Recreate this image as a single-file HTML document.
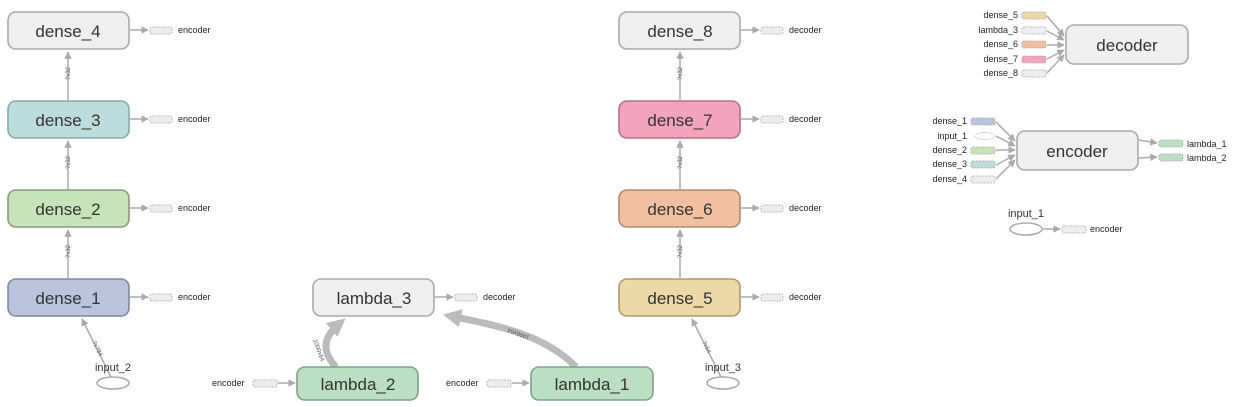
<!DOCTYPE html>
<html><head><meta charset="utf-8"><style>
html,body{margin:0;padding:0;background:#fff;}
svg{display:block;font-family:"Liberation Sans",Arial,sans-serif;}
.n{stroke-width:1.6;}
.t{font-size:17px;fill:#333;text-anchor:middle;}
.s{font-size:9px;fill:#222;}
.e{stroke:#aaa;stroke-width:1.5;fill:none;}
.sb{stroke:#aaa;stroke-width:0.8;stroke-dasharray:2,1;}
.el{font-size:6px;fill:#555;}
</style></head><body>
<svg width="1238" height="407" viewBox="0 0 1238 407" xmlns="http://www.w3.org/2000/svg">
<defs>
<marker id="a" viewBox="0 0 10 10" refX="9" refY="5" markerWidth="5" markerHeight="5" orient="auto"><path d="M0,0L10,5L0,10z" fill="#aaa"/></marker>
<marker id="ab" viewBox="0 0 10 10" refX="6" refY="5" markerWidth="2.6" markerHeight="2.6" orient="auto"><path d="M0,0L10,5L0,10z" fill="#bbb"/></marker>
</defs>

<line class="e" x1="68" y1="100" x2="68" y2="52" marker-end="url(#a)"/>
<line class="e" x1="68" y1="189" x2="68" y2="141" marker-end="url(#a)"/>
<line class="e" x1="68" y1="278" x2="68" y2="230" marker-end="url(#a)"/>
<text class="el" transform="translate(70,80) rotate(-90)">?x32</text>
<text class="el" transform="translate(70,169) rotate(-90)">?x32</text>
<text class="el" transform="translate(70,258) rotate(-90)">?x32</text>
<line class="e" x1="111" y1="377" x2="82" y2="319" marker-end="url(#a)"/>
<text class="el" transform="translate(92,342) rotate(63)">?x784</text>

<line class="e" x1="680" y1="100" x2="680" y2="52" marker-end="url(#a)"/>
<line class="e" x1="680" y1="189" x2="680" y2="141" marker-end="url(#a)"/>
<line class="e" x1="680" y1="278" x2="680" y2="230" marker-end="url(#a)"/>
<text class="el" transform="translate(682,80) rotate(-90)">?x32</text>
<text class="el" transform="translate(682,169) rotate(-90)">?x32</text>
<text class="el" transform="translate(682,258) rotate(-90)">?x32</text>
<line class="e" x1="721" y1="377" x2="692" y2="319" marker-end="url(#a)"/>
<text class="el" transform="translate(702,342) rotate(63)">?x64</text>

<path d="M336,367 C322,352 322,338 340,323" stroke="#bbb" stroke-width="7" fill="none" marker-end="url(#ab)"/>
<path d="M576,367 C545,335 500,326 450,316" stroke="#bbb" stroke-width="7" fill="none" marker-end="url(#ab)"/>
<text class="el" transform="translate(313,340) rotate(70)">1000x64</text>
<text class="el" transform="translate(530,336) rotate(-160)">1000x64</text>

<rect class="n" x="8" y="12" width="121" height="37" rx="8" fill="#efefef" stroke="#aaa"/><text class="t" x="68" y="37">dense_4</text>
<rect class="n" x="8" y="101" width="121" height="37" rx="8" fill="#bfdcdd" stroke="#8aa"/><text class="t" x="68" y="126">dense_3</text>
<rect class="n" x="8" y="190" width="121" height="37" rx="8" fill="#c6e3b9" stroke="#8a9a80"/><text class="t" x="68" y="215">dense_2</text>
<rect class="n" x="8" y="279" width="121" height="37" rx="8" fill="#bcc3dd" stroke="#7f889e"/><text class="t" x="68" y="304">dense_1</text>

<rect class="n" x="619" y="12" width="121" height="37" rx="8" fill="#efefef" stroke="#aaa"/><text class="t" x="680" y="37">dense_8</text>
<rect class="n" x="619" y="101" width="121" height="37" rx="8" fill="#f2a3bd" stroke="#b07484"/><text class="t" x="680" y="126">dense_7</text>
<rect class="n" x="619" y="190" width="121" height="37" rx="8" fill="#f1c0a1" stroke="#b08a70"/><text class="t" x="680" y="215">dense_6</text>
<rect class="n" x="619" y="279" width="121" height="37" rx="8" fill="#ecd9a7" stroke="#ab9a70"/><text class="t" x="680" y="304">dense_5</text>

<rect class="n" x="313" y="279" width="121" height="37" rx="8" fill="#efefef" stroke="#aaa"/><text class="t" x="374" y="304">lambda_3</text>
<rect class="n" x="297" y="367" width="121" height="33" rx="8" fill="#bcdec3" stroke="#80a088"/><text class="t" x="358" y="390">lambda_2</text>
<rect class="n" x="531" y="367" width="122" height="33" rx="8" fill="#bcdec3" stroke="#80a088"/><text class="t" x="592" y="390">lambda_1</text>

<ellipse cx="113" cy="383" rx="16" ry="6" fill="#fff" stroke="#aaa" stroke-width="1.5"/>
<text x="113" y="371" font-size="11" fill="#333" text-anchor="middle">input_2</text>
<ellipse cx="723" cy="383" rx="16" ry="6" fill="#fff" stroke="#aaa" stroke-width="1.5"/>
<text x="723" y="371" font-size="11" fill="#333" text-anchor="middle">input_3</text>

<g>
<line class="e" x1="130" y1="30" x2="148" y2="30" marker-end="url(#a)"/><rect class="sb" x="150" y="27" width="22" height="7" rx="2" fill="#eee"/><text class="s" x="178" y="33">encoder</text>
<line class="e" x1="130" y1="119" x2="148" y2="119" marker-end="url(#a)"/><rect class="sb" x="150" y="116" width="22" height="7" rx="2" fill="#eee"/><text class="s" x="178" y="122">encoder</text>
<line class="e" x1="130" y1="208" x2="148" y2="208" marker-end="url(#a)"/><rect class="sb" x="150" y="205" width="22" height="7" rx="2" fill="#eee"/><text class="s" x="178" y="211">encoder</text>
<line class="e" x1="130" y1="297" x2="148" y2="297" marker-end="url(#a)"/><rect class="sb" x="150" y="294" width="22" height="7" rx="2" fill="#eee"/><text class="s" x="178" y="300">encoder</text>

<line class="e" x1="741" y1="30" x2="759" y2="30" marker-end="url(#a)"/><rect class="sb" x="761" y="27" width="22" height="7" rx="2" fill="#eee"/><text class="s" x="789" y="33">decoder</text>
<line class="e" x1="741" y1="119" x2="759" y2="119" marker-end="url(#a)"/><rect class="sb" x="761" y="116" width="22" height="7" rx="2" fill="#eee"/><text class="s" x="789" y="122">decoder</text>
<line class="e" x1="741" y1="208" x2="759" y2="208" marker-end="url(#a)"/><rect class="sb" x="761" y="205" width="22" height="7" rx="2" fill="#eee"/><text class="s" x="789" y="211">decoder</text>
<line class="e" x1="741" y1="297" x2="759" y2="297" marker-end="url(#a)"/><rect class="sb" x="761" y="294" width="22" height="7" rx="2" fill="#eee"/><text class="s" x="789" y="300">decoder</text>

<line class="e" x1="435" y1="297" x2="453" y2="297" marker-end="url(#a)"/><rect class="sb" x="455" y="294" width="22" height="7" rx="2" fill="#eee"/><text class="s" x="483" y="300">decoder</text>

<text class="s" x="212" y="386">encoder</text><rect class="sb" x="253" y="380" width="24" height="7" rx="2" fill="#eee"/><line class="e" x1="278" y1="383" x2="295" y2="383" marker-end="url(#a)"/>
<text class="s" x="446" y="386">encoder</text><rect class="sb" x="487" y="380" width="24" height="7" rx="2" fill="#eee"/><line class="e" x1="512" y1="383" x2="529" y2="383" marker-end="url(#a)"/>
</g>

<rect class="n" x="1066" y="25" width="122" height="39" rx="8" fill="#efefef" stroke="#aaa"/><text class="t" x="1127" y="51">decoder</text>
<text class="s" x="1018" y="18" text-anchor="end">dense_5</text><rect class="sb" x="1022" y="12" width="24" height="7" rx="2" fill="#ecd9a7"/>
<text class="s" x="1018" y="33" text-anchor="end">lambda_3</text><rect class="sb" x="1022" y="27" width="24" height="7" rx="2" fill="#efefef"/>
<text class="s" x="1018" y="47" text-anchor="end">dense_6</text><rect class="sb" x="1022" y="41" width="24" height="7" rx="2" fill="#f1c0a1"/>
<text class="s" x="1018" y="62" text-anchor="end">dense_7</text><rect class="sb" x="1022" y="56" width="24" height="7" rx="2" fill="#f2a3bd"/>
<text class="s" x="1018" y="76" text-anchor="end">dense_8</text><rect class="sb" x="1022" y="70" width="24" height="7" rx="2" fill="#efefef"/>
<line class="e" x1="1047" y1="16" x2="1064" y2="36" marker-end="url(#a)"/>
<line class="e" x1="1047" y1="31" x2="1064" y2="40" marker-end="url(#a)"/>
<line class="e" x1="1047" y1="45" x2="1064" y2="45" marker-end="url(#a)"/>
<line class="e" x1="1047" y1="59" x2="1064" y2="50" marker-end="url(#a)"/>
<line class="e" x1="1047" y1="73" x2="1064" y2="55" marker-end="url(#a)"/>

<rect class="n" x="1017" y="131" width="121" height="39" rx="8" fill="#efefef" stroke="#aaa"/><text class="t" x="1077" y="157">encoder</text>
<text class="s" x="967" y="124" text-anchor="end">dense_1</text><rect class="sb" x="971" y="118" width="24" height="7" rx="2" fill="#bcc3dd"/>
<text class="s" x="967" y="139" text-anchor="end">input_1</text><ellipse cx="985" cy="136" rx="10" ry="3.5" fill="#fff" stroke="#bbb" stroke-width="0.8" stroke-dasharray="2,1"/>
<text class="s" x="967" y="153" text-anchor="end">dense_2</text><rect class="sb" x="971" y="147" width="24" height="7" rx="2" fill="#c6e3b9"/>
<text class="s" x="967" y="167" text-anchor="end">dense_3</text><rect class="sb" x="971" y="161" width="24" height="7" rx="2" fill="#bfdcdd"/>
<text class="s" x="967" y="182" text-anchor="end">dense_4</text><rect class="sb" x="971" y="176" width="24" height="7" rx="2" fill="#efefef"/>
<line class="e" x1="996" y1="122" x2="1015" y2="141" marker-end="url(#a)"/>
<line class="e" x1="996" y1="136" x2="1015" y2="146" marker-end="url(#a)"/>
<line class="e" x1="996" y1="150" x2="1015" y2="150" marker-end="url(#a)"/>
<line class="e" x1="996" y1="165" x2="1015" y2="155" marker-end="url(#a)"/>
<line class="e" x1="996" y1="179" x2="1015" y2="160" marker-end="url(#a)"/>
<line class="e" x1="1139" y1="140" x2="1157" y2="143" marker-end="url(#a)"/>
<line class="e" x1="1139" y1="158" x2="1157" y2="157" marker-end="url(#a)"/>
<rect class="sb" x="1159" y="140" width="24" height="7" rx="2" fill="#bcdec3"/><text class="s" x="1187" y="147">lambda_1</text>
<rect class="sb" x="1159" y="154" width="24" height="7" rx="2" fill="#bcdec3"/><text class="s" x="1187" y="161">lambda_2</text>

<text x="1026" y="217" font-size="11" fill="#333" text-anchor="middle">input_1</text>
<ellipse cx="1026" cy="229" rx="16" ry="6" fill="#fff" stroke="#aaa" stroke-width="1.5"/>
<line class="e" x1="1043" y1="229" x2="1060" y2="229" marker-end="url(#a)"/>
<rect class="sb" x="1062" y="226" width="24" height="7" rx="2" fill="#eee"/><text class="s" x="1090" y="232">encoder</text>
</svg>
</body></html>
